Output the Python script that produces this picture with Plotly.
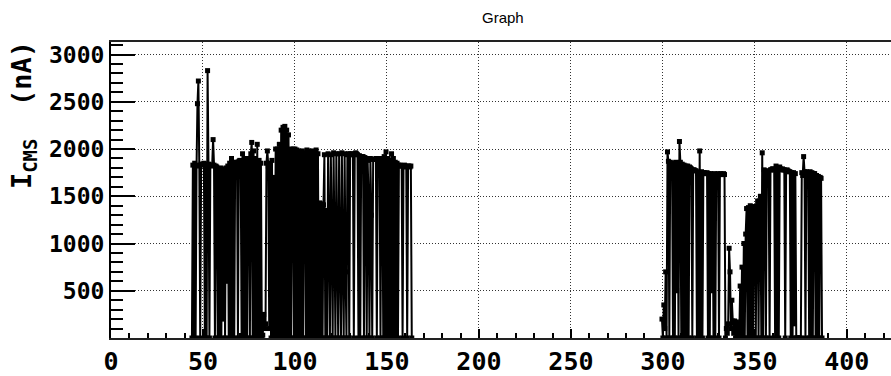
import plotly.graph_objects as go

# ---------------- data ----------------
dt = 0.5
g1_t0 = 44.0
g1_y = (
    [0, 1830, 0, 1850, 0, 1820, 2480, 2720, 1830, 0, 1840, 1830, 1840, 1850, 0, 1840, 0, 2830, 1840, 0]
    + [1830, 1820, 1830, 2100, 1830, 0, 1820, 1810, 0, 1790, 0, 1800, 0, 1780, 200, 1790, 0, 1800, 600, 1820]
    + [0, 1850, 0, 1900, 0, 1860, 0, 1850, 1850, 1860, 0, 1870, 1880, 1870, 0, 1950, 0, 1900, 0, 1880]
    + [0, 1900, 1890, 0, 1950, 2070, 0, 1980, 0, 1900, 0, 2050, 0, 1880, 0, 1850, 0, 30, 250, 100]
    + [150, 1850, 1980, 1820, 100, 1850, 0, 1880, 0, 1700, 0, 2000, 0, 2000, 0, 2050, 0, 2200, 0, 2230]
    + [0, 2240, 0, 2200, 0, 2150, 0, 2000, 0, 1980, 2000, 0, 2000, 0, 1990, 0, 1980, 0, 1970, 0]
    + [1980, 0, 1960, 1950, 0, 1990, 0, 1980, 0, 1960, 0, 1980, 0, 1970, 0, 1990, 0, 1950, 0, 1430]
    + [0, 1420, 0, 1410, 1940, 0, 1350, 0, 1950, 1200, 0, 1940, 1100, 0, 1960, 1000, 0, 1950, 900, 0]
    + [1950, 850, 0, 1960, 800, 0, 1950, 700, 0, 1940, 1950, 0, 1950, 1940, 1950, 1940, 0, 1950, 1960, 1950]
    + [1940, 0, 1930, 0, 1920, 1920, 1920, 0, 1910, 1900, 0, 1880, 1500, 0, 1900, 1300, 0, 1890, 1890, 1890]
    + [1900, 0, 1890, 1900, 1900, 0, 1890, 1900, 0, 1920, 0, 1970, 0, 1900, 0, 1880, 0, 1950, 0, 1900]
    + [0, 1860, 0, 1850, 0, 1830, 1830, 1820, 1820, 0, 1820, 1830, 1820, 1810, 0, 1820, 1820, 1810, 1820, 0]
)
g2_t0 = 299.5
g2_y = (
    [200, 0, 350, 100, 700, 0, 1970, 1870, 0, 1860, 1850, 1840, 0, 1850, 0, 1860, 500, 1850, 0, 2080]
    + [1860, 0, 1840, 0, 1830, 0, 1820, 0, 1820, 0, 1810, 1800, 1790, 0, 1780, 1780, 1770, 1770, 0, 1760]
    + [0, 1980, 0, 1760, 0, 1750, 1750, 1740, 1740, 1750, 0, 1740, 0, 1740, 500, 1730, 0, 1740, 0, 1730]
    + [1730, 1740, 0, 1730, 1740, 1730, 1730, 1740, 1730, 0, 100, 50, 150, 950, 700, 100, 400, 180, 50, 180]
    + [0, 170, 20, 150, 0, 550, 0, 750, 0, 1000, 0, 1100, 1370, 0, 1380, 0, 1400, 0, 1390, 0]
    + [1380, 1390, 0, 1400, 1450, 0, 1450, 1500, 0, 1960, 0, 1780, 1770, 0, 1760, 1760, 1770, 0, 1780, 1780]
    + [1790, 1790, 1780, 0, 1820, 0, 1800, 0, 1810, 1790, 1780, 1790, 1780, 1780, 0, 1770, 1780, 1770, 1760, 1760]
    + [0, 1750, 0, 1750, 150, 1740, 0, 0, 0, 0, 0, 0, 1750, 1720, 1920, 1760, 0, 1760, 1750, 1740]
    + [0, 1760, 0, 1750, 0, 1740, 1740, 0, 1720, 0, 1710, 0, 1700, 1690, 0]
)
g1_x = [g1_t0 + dt * i for i in range(len(g1_y))]
g2_x = [g2_t0 + dt * i for i in range(len(g2_y))]

x_ticks = [0, 50, 100, 150, 200, 250, 300, 350, 400]
x_tick_labels = [str(v) for v in x_ticks]
y_ticks = [500, 1000, 1500, 2000, 2500, 3000]
y_tick_labels = [str(v) for v in y_ticks]

title_text = "Graph"
y_title = "I<sub>CMS</sub>\u00a0\u00a0(nA)"

# ---------------- figure ----------------
fig = go.Figure()
for xs, ys in ((g1_x, g1_y), (g2_x, g2_y)):
    fig.add_trace(go.Scatter(
        x=xs, y=ys, mode="lines+markers",
        line=dict(color="black", width=2, simplify=False),
        marker=dict(symbol="square", size=5, color="black"),
        showlegend=False, hoverinfo="skip",
    ))

mono = "DejaVu Sans Mono"
fig.update_layout(
    width=891, height=376,
    margin=dict(l=111, r=0, t=42, b=32),
    paper_bgcolor="white", plot_bgcolor="white",
    showlegend=False,
    xaxis=dict(
        range=[0, 424], tickmode="array", tickvals=x_ticks, ticktext=x_tick_labels,
        ticks="inside", ticklen=9, tickwidth=2, tickcolor="black",
        minor=dict(dtick=10, tick0=0, ticks="inside", ticklen=5, tickwidth=1.5,
                   tickcolor="black", showgrid=False),
        showgrid=True, gridcolor="#333", griddash="1px,2px", gridwidth=1,
        showline=True, linecolor="#222", linewidth=2, mirror=True,
        zeroline=False,
        tickfont=dict(family=mono, size=25, color="black", weight="bold"),
    ),
    yaxis=dict(
        range=[0, 3133], tickmode="array", tickvals=y_ticks, ticktext=y_tick_labels,
        ticks="inside", ticklen=24, tickwidth=2, tickcolor="black",
        minor=dict(dtick=100, tick0=0, ticks="inside", ticklen=12, tickwidth=1.5,
                   tickcolor="black", showgrid=False),
        showgrid=True, gridcolor="#333", griddash="1px,2px", gridwidth=1,
        showline=True, linecolor="black", linewidth=2, mirror=False,
        zeroline=False,
        tickfont=dict(family=mono, size=23, color="black", weight="bold"),
    ),
    annotations=[
        dict(text=title_text, xref="paper", yref="paper",
             x=(503 - 111) / 780, y=1 + (42 - 17.5) / 302,
             xanchor="center", yanchor="middle", showarrow=False,
             font=dict(family="Liberation Sans", size=15, color="black")),
        dict(text=y_title, xref="paper", yref="paper",
             x=(23 - 111) / 780, y=(344 - 116.5) / 302, textangle=-90,
             xanchor="center", yanchor="middle", showarrow=False,
             font=dict(family=mono, size=27, color="black", weight="bold")),
    ],
)

fig.write_html("out.html")
